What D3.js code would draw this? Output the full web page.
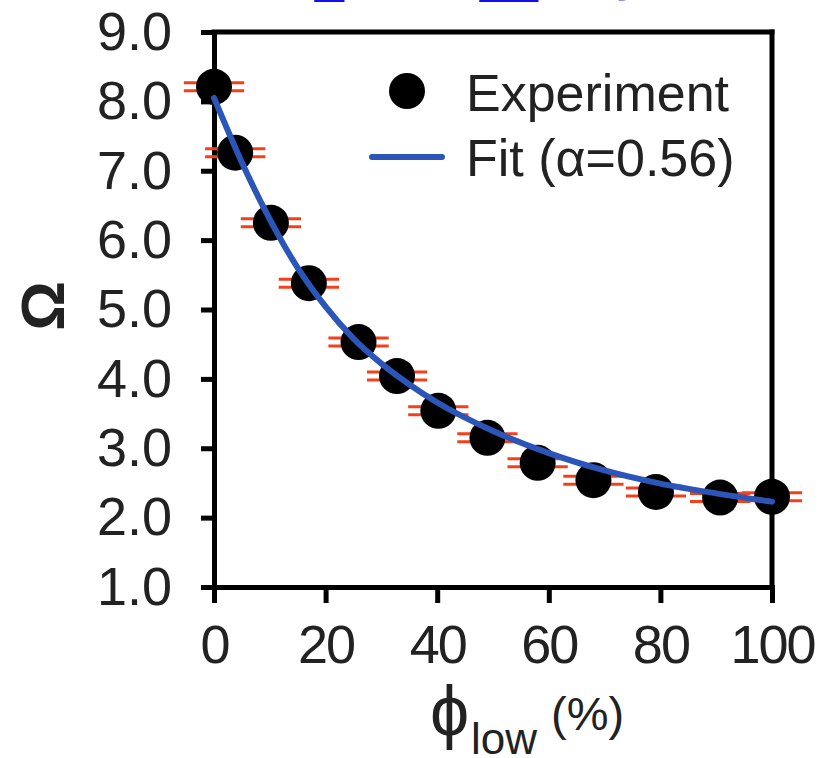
<!DOCTYPE html>
<html>
<head>
<meta charset="utf-8">
<script src="https://cdn.jsdelivr.net/npm/d3@7"></script>
<style>
  body { margin: 0; background: #fff; }
  text { font-family: "Liberation Sans", Arial, sans-serif; }
</style>
</head>
<body>
<div id="chart"></div>
<script>
var svgWidth = 818;
var svgHeight = 758;

// experiment points (phi_low in %, Omega)
var phiExp = [0, 3.8, 10.2, 17.0, 25.9, 32.8, 40.2, 49.0, 58.0, 68.0, 79.2, 90.7, 100];
var omegaExp = [8.21, 7.26, 6.25, 5.38, 4.53, 4.04, 3.54, 3.15, 2.79, 2.54, 2.37, 2.29, 2.30];
var phiErr = [5.4, 5.4, 5.4, 5.4, 5.4, 5.4, 5.4, 5.4, 5.4, 5.4, 5.4, 5.4, 5.4];

// fit curve
var phiFit = [0, 5, 10, 15, 20, 25, 30, 35, 40, 50, 60, 70, 80, 90, 100];
var omegaFit = [8.05, 7.12, 6.30, 5.60, 5.04, 4.58, 4.22, 3.92, 3.66, 3.25, 2.93, 2.68, 2.49, 2.35, 2.23];

var xTicks = [0, 20, 40, 60, 80, 100];
var yTicks = [1, 2, 3, 4, 5, 6, 7, 8, 9];
var legendLabels = ['Experiment', 'Fit (\u03b1=0.56)'];

var margin = ({top: 32, right: 46, bottom: 171, left: 214});

var svg = d3.select("#chart")
    .append("svg")
    .attr("width", svgWidth)
    .attr("height", svgHeight);

var xScale = d3.scaleLinear()
    .domain([0, 100])
    .range([margin.left, svgWidth - margin.right]);

var yScale = d3.scaleLinear()
    .domain([1, 9])
    .range([svgHeight - margin.bottom, margin.top]);

// clipped blue title fragments at the very top (cut off in the original too)
var topBits = [{x: 315, t: '_'}, {x: 480, t: '__'}, {x: 608, t: 'o'}];
svg.selectAll('.topBit')
    .data(topBits)
    .enter()
    .append('text')
    .classed('topBit', true)
    .attr('x', d => d.x)
    .attr('y', d => d.t == 'o' ? 0 : -8)
    .attr('font-size', 52)
    .attr('fill', '#1010ee')
    .text(d => d.t);

// frame: top and right
svg.append('line')
    .attr('x1', xScale(0)).attr('x2', xScale(100))
    .attr('y1', yScale(9)).attr('y2', yScale(9))
    .attr('stroke', '#000').attr('stroke-width', 5).attr('stroke-linecap', 'square');
svg.append('line')
    .attr('x1', xScale(100)).attr('x2', xScale(100))
    .attr('y1', yScale(9)).attr('y2', yScale(1))
    .attr('stroke', '#000').attr('stroke-width', 5).attr('stroke-linecap', 'square');

var xAxis = svg.append("g")
    .attr("transform", "translate(0," + yScale(1) + ")")
    .call(d3.axisBottom(xScale).tickValues(xTicks).tickSize(16).tickPadding(22).tickFormat(d3.format("d")));

var yAxis = svg.append("g")
    .attr("transform", "translate(" + xScale(0) + ",0)")
    .call(d3.axisLeft(yScale).tickValues(yTicks).tickSize(13).tickPadding(29).tickFormat(d3.format(".1f")));

[xAxis, yAxis].forEach(function(ax) {
    ax.select('.domain').attr('stroke', '#000').attr('stroke-width', 5);
    ax.selectAll('.tick line').attr('stroke', '#000').attr('stroke-width', 5);
    ax.selectAll('.tick text')
        .attr('font-size', 54)
        .attr('fill', '#222')
        .attr('font-family', '"Liberation Sans", Arial, sans-serif');
});
xAxis.selectAll('.tick text').attr('letter-spacing', -2);

// axis titles
svg.append('text')
    .attr('x', 430).attr('y', 735)
    .attr('font-size', 70)
    .attr('fill', '#222')
    .text('\u03d5');
svg.append('text')
    .attr('x', 471).attr('y', 754)
    .attr('font-size', 44)
    .attr('fill', '#222')
    .text('low');
svg.append('text')
    .attr('x', 551).attr('y', 730)
    .attr('font-size', 47)
    .attr('fill', '#222')
    .text('(%)');

svg.append('text')
    .attr('transform', 'translate(64,306) rotate(-90)')
    .attr('text-anchor', 'middle')
    .attr('font-size', 62)
    .attr('font-weight', 'bold')
    .attr('fill', '#222')
    .text('\u03a9');

// error bars (drawn as double red strokes)
var points = phiExp.map(function(p, i) { return {phi: p, omega: omegaExp[i], err: phiErr[i]}; });

var bars = svg.selectAll('.errBar')
    .data(points)
    .enter()
    .append('g')
    .classed('errBar', true);

[-4, 4].forEach(function(off) {
    bars.append('line')
        .attr('x1', d => xScale(d.phi - d.err))
        .attr('x2', d => xScale(d.phi + d.err))
        .attr('y1', d => yScale(d.omega) + off)
        .attr('y2', d => yScale(d.omega) + off)
        .attr('stroke', '#f2401c')
        .attr('stroke-width', 3);
});

svg.selectAll('.dot')
    .data(points)
    .enter()
    .append('circle')
    .classed('dot', true)
    .attr('cx', d => xScale(d.phi))
    .attr('cy', d => yScale(d.omega))
    .attr('r', 18)
    .attr('fill', '#000');

var fitData = phiFit.map(function(p, i) { return [p, omegaFit[i]]; });

var line = d3.line()
    .x(d => xScale(d[0]))
    .y(d => yScale(d[1]))
    .curve(d3.curveMonotoneX);

svg.append('path')
    .datum(fitData)
    .attr('d', line)
    .attr('fill', 'none')
    .attr('stroke', '#2b55b8')
    .attr('stroke-width', 6)
    .attr('stroke-linecap', 'round');

// legend
svg.append('circle')
    .attr('cx', 407).attr('cy', 91).attr('r', 18)
    .attr('fill', '#000');
svg.append('line')
    .attr('x1', 372).attr('x2', 442)
    .attr('y1', 157).attr('y2', 157)
    .attr('stroke', '#2b55b8').attr('stroke-width', 6).attr('stroke-linecap', 'round');

svg.selectAll('.legendText')
    .data(legendLabels)
    .enter()
    .append('text')
    .classed('legendText', true)
    .attr('x', 466)
    .attr('y', (d, i) => 111 + i * 65)
    .attr('font-size', 52)
    .attr('fill', '#222')
    .text(d => d);
</script>
</body>
</html>
